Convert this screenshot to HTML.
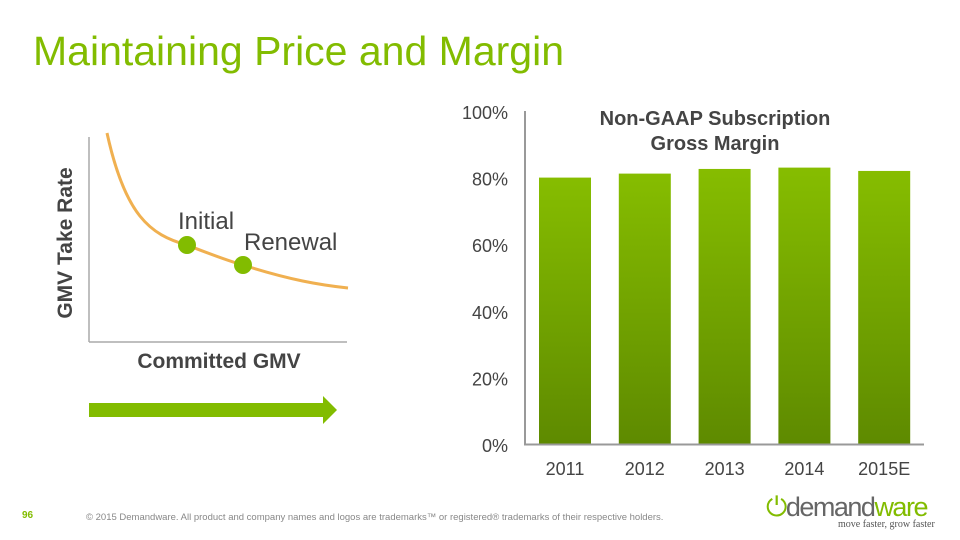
<!DOCTYPE html>
<html><head><meta charset="utf-8"><style>
body{margin:0;background:#fff;}
#root{position:relative;width:960px;height:540px;overflow:hidden;font-family:"Liberation Sans",sans-serif;}
.t{position:absolute;white-space:nowrap;}
</style></head><body>
<div id="root">
<div class="t" style="left:33px;top:28px;font-size:41px;color:#82bc00;">Maintaining Price and Margin</div>

<svg width="960" height="540" style="position:absolute;left:0;top:0">
  <line x1="89" y1="137" x2="89" y2="342" stroke="#aaa" stroke-width="1.5"/>
  <line x1="89" y1="342" x2="347" y2="342" stroke="#aaa" stroke-width="1.5"/>
  <path d="M107,133 C125,215 150,235 187,245 C205,252 225,260 243,265 C290,280 320,285 348,288" fill="none" stroke="#f0b050" stroke-width="3"/>
  <circle cx="187" cy="245" r="9" fill="#82bc00"/>
  <circle cx="243" cy="265" r="9" fill="#82bc00"/>
  <text x="178" y="229" font-size="24" fill="#444" font-family="Liberation Sans">Initial</text>
  <text x="244" y="250" font-size="24" fill="#444" font-family="Liberation Sans">Renewal</text>
  <text transform="translate(72,243) rotate(-90)" text-anchor="middle" font-size="21" font-weight="bold" fill="#444" font-family="Liberation Sans">GMV Take Rate</text>
  <text x="219" y="368" text-anchor="middle" font-size="21" font-weight="bold" fill="#444" font-family="Liberation Sans">Committed GMV</text>
  <polygon points="89,403 323,403 323,396 337,410 323,424 323,417 89,417" fill="#82bc00"/>
</svg>

<svg id="chart" width="960" height="540" style="position:absolute;left:0;top:0">
  <defs><linearGradient id="g" x1="0" y1="0" x2="0" y2="1"><stop offset="0" stop-color="#86bd00"/><stop offset="1" stop-color="#5e8a00"/></linearGradient></defs>
  <text x="715" y="125" text-anchor="middle" font-size="20" font-weight="bold" fill="#444" font-family="Liberation Sans">Non-GAAP Subscription</text>
  <text x="715" y="150" text-anchor="middle" font-size="20" font-weight="bold" fill="#444" font-family="Liberation Sans">Gross Margin</text>
</svg>
<script>
const categories=["2011","2012","2013","2014","2015E"];
const margins=[80,81.2,82.6,83,82];
const yTicks=[0,20,40,60,80,100];
const svg=document.getElementById('chart');
const NS='http://www.w3.org/2000/svg';
const y=v=>444-v*3.33;
const x=i=>565+i*79.8;
function mk(t,a){const e=document.createElementNS(NS,t);for(const k in a)e.setAttribute(k,a[k]);svg.appendChild(e);return e;}
categories.forEach((c,i)=>{
  const r=mk('rect',{x:x(i)-26,y:y(margins[i]),width:52,height:y(0)-y(margins[i]),fill:'url(#g)'});
  
  
  const t=mk('text',{x:x(i),y:475,'text-anchor':'middle','font-size':18,fill:'#444','font-family':'Liberation Sans'});
  t.textContent=c;
  
  
});
yTicks.forEach(v=>{
  const t=mk('text',{x:508,y:y(v)+8,'text-anchor':'end','font-size':18,fill:'#444','font-family':'Liberation Sans'});
  t.textContent=v+'%';
  
  
});
const ya=mk('line',{x1:525,y1:111,x2:525,y2:445,stroke:'#999','stroke-width':2});


const xa=mk('line',{x1:524,y1:444.5,x2:924,y2:444.5,stroke:'#999','stroke-width':2});


</script>

<div class="t" style="left:22px;top:510px;font-size:10px;font-weight:bold;color:#82bc00;">96</div>
<div class="t" style="left:86px;top:512px;font-size:9.5px;color:#888;">© 2015 Demandware. All product and company names and logos are trademarks™ or registered® trademarks of their respective holders.</div>
<div class="t" style="left:766px;top:492px;font-size:27px;color:#666;letter-spacing:-1.5px;"><span style="color:#82bc00">⏻</span>demand<span style="color:#82bc00">ware</span></div>
<div class="t" style="left:838px;top:519px;font-size:10px;color:#555;font-family:'Liberation Serif',serif;">move faster, grow faster</div>
</div>
</body></html>
